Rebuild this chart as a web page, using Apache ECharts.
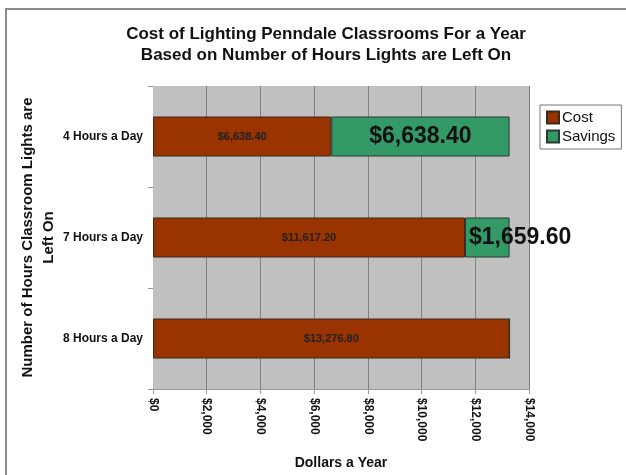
<!DOCTYPE html>
<html>
<head>
<meta charset="utf-8">
<script src="https://cdn.jsdelivr.net/npm/echarts@6/dist/echarts.min.js"></script>
<style>
  html, body { margin: 0; padding: 0; background: #fff; }
  #main { width: 626px; height: 475px; }
</style>
</head>
<body>
<div id="main"></div>
<script>
// data
const categories = ['4 Hours a Day', '7 Hours a Day', '8 Hours a Day'];
const costValues = [6638.40, 11617.20, 13276.80];
const savingsValues = [6638.40, 1659.60, 0];
const xTicks = [0, 2000, 4000, 6000, 8000, 10000, 12000, 14000];

function money(v, dec) {
    return '$' + Number(v).toLocaleString('en-US', {
        minimumFractionDigits: dec,
        maximumFractionDigits: dec
    });
}

let chart = echarts.init(document.getElementById('main'), null, { renderer: 'canvas' });

let option = {
    backgroundColor: '#ffffff',
    animation: false,
    textStyle: { fontFamily: 'Liberation Sans, Arial, sans-serif' },
    title: {
        text: 'Cost of Lighting Penndale Classrooms For a Year\nBased on Number of Hours Lights are Left On',
        left: 321,
        textAlign: 'center',
        top: 19,
        textStyle: {
            fontSize: 17,
            fontWeight: 'bold',
            color: '#111',
            lineHeight: 21
        }
    },
    // outer frame, cut off on the right and bottom like the photo
    graphic: [{
        type: 'rect',
        shape: { x: 6, y: 9, width: 700, height: 520 },
        style: { fill: 'none', stroke: '#8c8c8c', lineWidth: 2 },
        silent: true
    }],
    legend: {
        orient: 'vertical',
        left: 540,
        top: 105,
        padding: [5, 6, 5, 6],
        itemGap: 4,
        itemWidth: 12,
        itemHeight: 12,
        borderColor: '#777',
        borderWidth: 1,
        borderRadius: 0,
        icon: 'rect',
        textStyle: { fontSize: 15, color: '#111', padding: [0, 0, 0, -2] },
        data: ['Cost', 'Savings']
    },
    grid: {
        left: 153,
        right: 97,
        top: 86,
        bottom: 86,
        outerBoundsMode: 'none',
        containLabel: false,
        show: true,
        backgroundColor: '#c0c0c0',
        borderWidth: 0
    },
    xAxis: {
        type: 'value',
        min: 0,
        max: 14000,
        interval: 2000,
        name: 'Dollars a Year',
        nameLocation: 'middle',
        nameGap: 67,
        nameMoveOverlap: false,
        nameTextStyle: { fontSize: 14, fontWeight: 'bold', color: '#111' },
        axisLine: { show: true, lineStyle: { color: '#999' } },
        axisTick: { show: true, length: 5, lineStyle: { color: '#999' } },
        axisLabel: {
            rotate: -90,
            fontSize: 12,
            fontWeight: 'bold',
            color: '#111',
            margin: 9,
            formatter: v => xTicks.includes(v) ? money(v, 0) : ''
        },
        splitLine: { show: true, lineStyle: { color: '#808080', width: 1 } }
    },
    yAxis: {
        type: 'category',
        inverse: true,
        data: categories,
        name: 'Number of Hours Classroom Lights are\nLeft On',
        nameLocation: 'middle',
        nameGap: 94,
        nameMoveOverlap: false,
        nameRotate: 90,
        nameTextStyle: { fontSize: 15, fontWeight: 'bold', color: '#111', lineHeight: 21 },
        axisLine: { show: true, lineStyle: { color: '#bbb' } },
        axisTick: { show: true, length: 5, lineStyle: { color: '#999' } },
        axisLabel: { fontSize: 12, fontWeight: 'bold', color: '#111', margin: 10 },
        splitLine: { show: false }
    },
    series: [{
        name: 'Cost',
        type: 'bar',
        stack: 'total',
        barWidth: 40,
        data: costValues,
        itemStyle: { color: '#993300', borderColor: '#3a2a20', borderWidth: 1 },
        label: {
            show: true,
            position: 'inside',
            fontSize: 11,
            fontWeight: 'bold',
            color: '#222',
            formatter: p => money(p.value, 2)
        }
    }, {
        name: 'Savings',
        type: 'bar',
        stack: 'total',
        barWidth: 40,
        data: savingsValues,
        itemStyle: { color: '#339966', borderColor: '#2a3a30', borderWidth: 1 },
        label: {
            show: true,
            position: 'inside',
            fontSize: 23,
            fontWeight: 'bold',
            color: '#111',
            formatter: p => p.value > 0 ? money(p.value, 2) : ''
        },
        labelLayout: function (params) {
            // small savings bar: the label starts at the bar and runs past it
            if (params.dataIndex === 1) {
                return {
                    x: params.rect.x + 4,
                    y: params.rect.y + params.rect.height / 2,
                    align: 'left',
                    verticalAlign: 'middle'
                };
            }
        }
    }]
};

chart.setOption(option);
</script>
</body>
</html>
